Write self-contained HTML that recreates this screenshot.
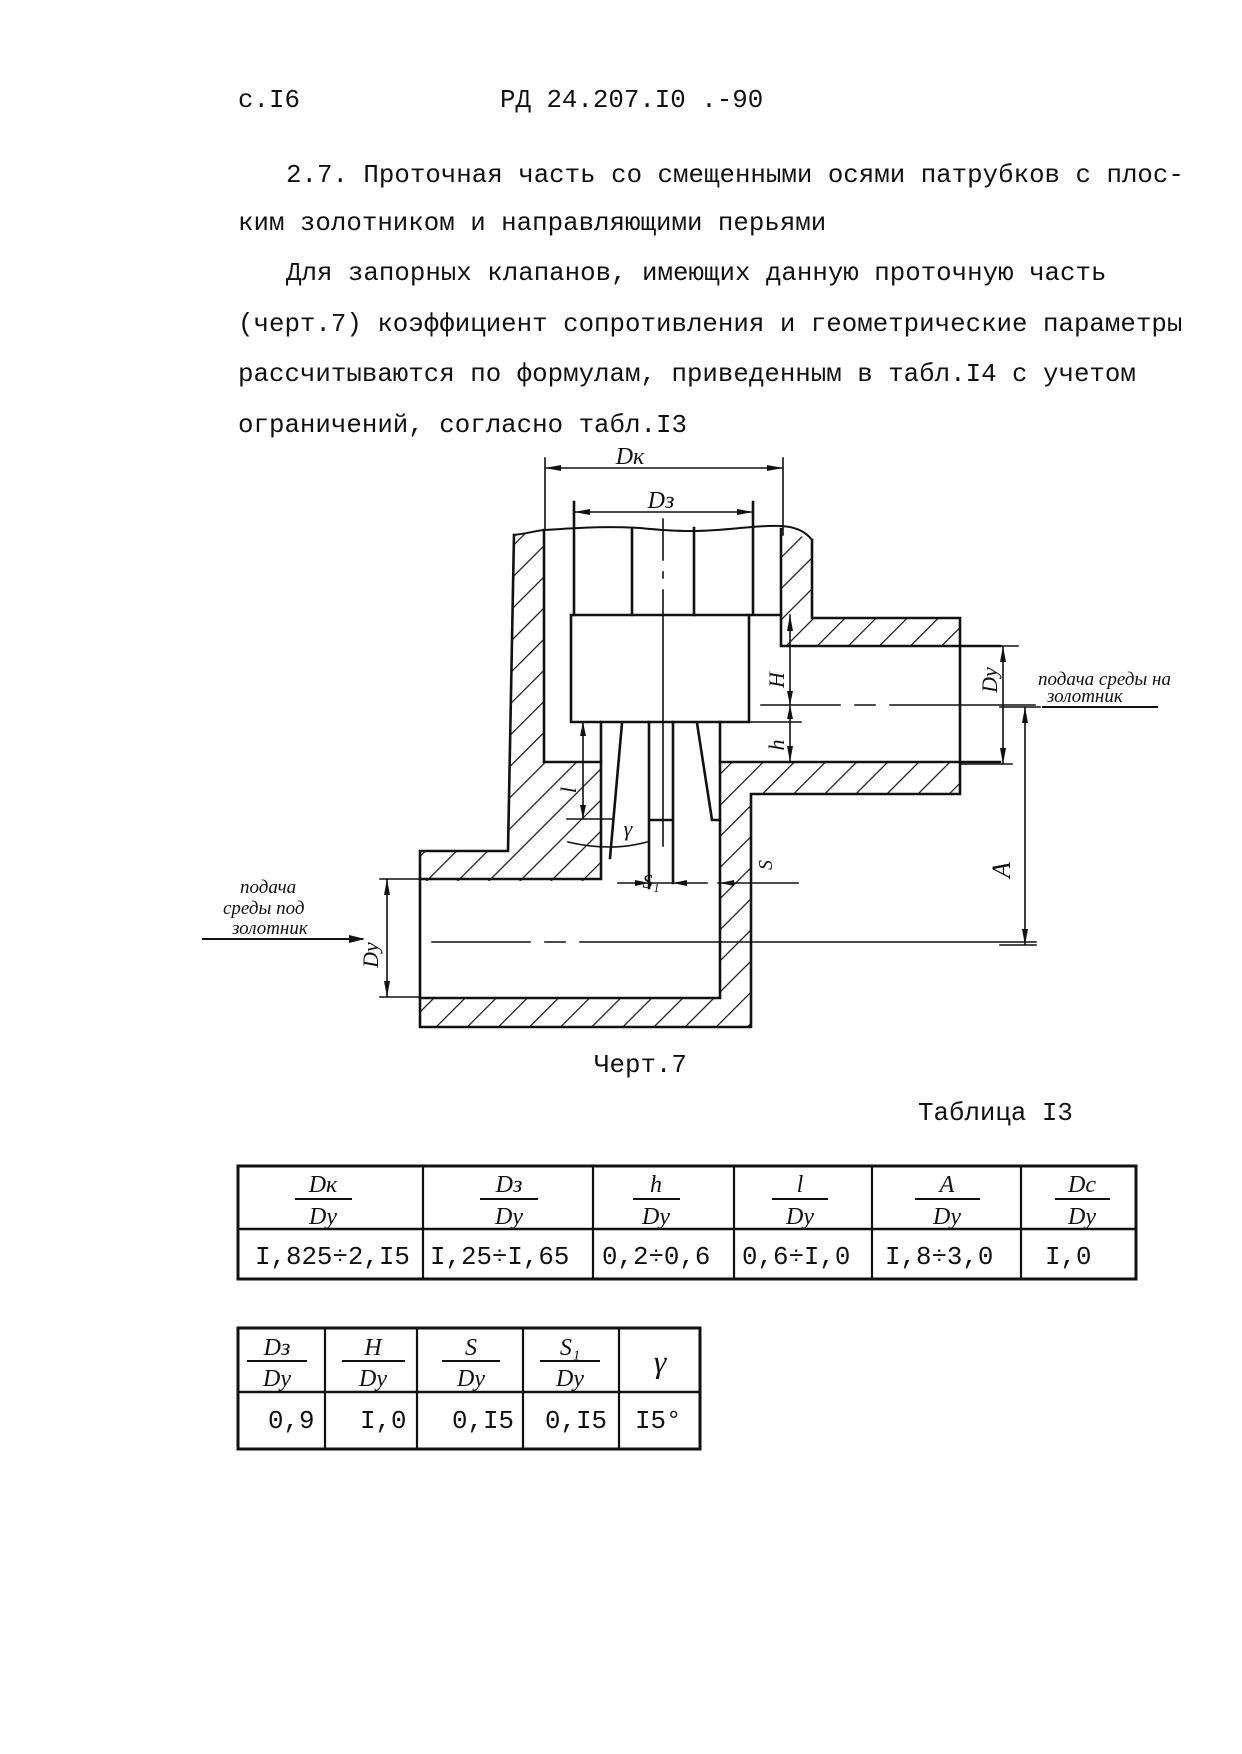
<!DOCTYPE html>
<html><head><meta charset="utf-8"><style>
html,body{margin:0;padding:0;background:#fff;}
body{width:1242px;height:1754px;position:relative;overflow:hidden;}
.t{position:absolute;font-family:"Liberation Mono","DejaVu Sans Mono",monospace;font-size:25.8px;color:#111;white-space:pre;line-height:1;}
</style></head><body>
<div class="t" style="left:238px;top:88px">с.I6</div>
<div class="t" style="left:500px;top:88px">РД 24.207.I0 .-90</div>
<div class="t" style="left:286px;top:163px">2.7. Проточная часть со смещенными осями патрубков с плос-</div>
<div class="t" style="left:238px;top:211px">ким золотником и направляющими перьями</div>
<div class="t" style="left:286px;top:261px">Для запорных клапанов, имеющих данную проточную часть</div>
<div class="t" style="left:238px;top:312px">(черт.7) коэффициент сопротивления и геометрические параметры</div>
<div class="t" style="left:238px;top:362px">рассчитываются по формулам, приведенным в табл.I4 с учетом</div>
<div class="t" style="left:238px;top:413px">ограничений, согласно табл.I3</div>
<div class="t" style="left:594px;top:1053px">Черт.7</div>
<div class="t" style="left:918px;top:1101px">Таблица I3</div>

<svg width="1242" height="1754" style="position:absolute;left:0;top:0" xmlns="http://www.w3.org/2000/svg">
<defs>
<pattern id="h" patternUnits="userSpaceOnUse" width="22" height="22" patternTransform="rotate(45)">
<line x1="0" y1="0" x2="0" y2="22" stroke="#111" stroke-width="2.4"/>
</pattern>
</defs>
<g fill="none" stroke="#111" stroke-width="2.6" stroke-linecap="square">
<!-- hatched walls -->
<path fill="url(#h)" fill-rule="evenodd" stroke="none" d="M514,535 L544,531 L781,529 L812,540 L812,618 L960,618 L960,794 L751,794 L751,1027 L420,1027 L420,851 L508,851 Z M544,531 L544,762 L601,762 L601,881 L420,881 L420,998 L720,998 L720,762 L960,762 L960,646 L781,646 L781,529 Z"/>
<!-- outer contour -->
<path d="M514,535 L508,851 L420,851 L420,1027 L751,1027 L751,794 L960,794 L960,618 L812,618 L812,540"/>
<path d="M514,535 C530,533 540,530 544,530 C580,528 600,526 640,528 C680,532 700,532 740,528 C780,524 800,524 812,540" stroke-width="2"/>
<!-- inner contour -->
<path d="M544,530 L544,762 L601,762"/>
<path d="M781,529 L781,646 L1000,646"/>
<path d="M720,762 L1000,762"/>
<path d="M420,879 L601,879 L601,722"/>
<path d="M420,998 L720,998 L720,722"/>
<!-- disc -->
<path d="M571,615 L749,615 L749,722 L571,722 Z"/>
<path d="M632,528 L632,615 M694,528 L694,615 M574,502 L574,615 M753,502 L753,615 M749,615 L781,615"/>
<!-- feathers -->
<path d="M622,723 L610,858 M697,723 L712,820 L720,820 M649,722 L649,888 M673,722 L673,883 M649,820 L673,820"/>
<!-- center lines -->
<path stroke-width="1.6" d="M663,519 L663,560 M663,572 L663,578 M663,590 L663,846"/>
<path stroke-width="1.6" d="M761,705 L840,705 M855,705 L875,705 M890,705 L1035,705"/>
<path stroke-width="1.6" d="M432,942 L530,942 M545,942 L565,942 M580,942 L1036,942"/>
<!-- Dk, Dz dimensions -->
<path stroke-width="1.6" d="M545,458 L545,530 M783,458 L783,535 M545,468 L783,468 M574,512 L753,512"/>
<path fill="#111" stroke="none" d="M545,468 l16,-3 l0,6 Z M783,468 l-16,-3 l0,6 Z M574,512 l16,-3 l0,6 Z M753,512 l-16,-3 l0,6 Z"/>
<!-- H, h -->
<path stroke-width="1.6" d="M790,615 L790,762 M749,722 L801,722"/>
<path fill="#111" stroke="none" d="M790,615 l-3,16 l6,0 Z M790,705 l-3,-14 l6,0 Z M790,705 l-3,14 l6,0 Z M790,762 l-3,-16 l6,0 Z"/>
<!-- l dimension -->
<path stroke-width="1.6" d="M583,722 L583,819 M567,819 L612,819"/>
<path fill="#111" stroke="none" d="M583,722 l-3,14 l6,0 Z M583,819 l-3,-14 l6,0 Z"/>
<!-- gamma arc -->
<path stroke-width="1.6" d="M568,842 Q610,852 647,842"/>
<!-- S1, S -->
<path stroke-width="1.6" d="M618,883 L707,883 M718,883 L798,883"/>
<path fill="#111" stroke="none" d="M649,883 l-14,-3 l0,6 Z M673,883 l14,-3 l0,6 Z M720,883 l14,-3 l0,6 Z"/>
<!-- right Dy, A -->
<path stroke-width="1.6" d="M960,646 L1018,646 M960,764 L1012,764 M1003,646 L1003,764 M1025,707 L1025,945 M1000,945 L1036,945 M1000,707 L1040,707"/>
<path fill="#111" stroke="none" d="M1003,646 l-3,16 l6,0 Z M1003,764 l-3,-16 l6,0 Z M1025,707 l-3,16 l6,0 Z M1025,945 l-3,-16 l6,0 Z"/>
<path stroke-width="2" d="M1043,707 L1157,707"/>
<!-- left Dy, arrow -->
<path stroke-width="1.6" d="M380,879 L420,879 M380,997 L420,997 M387,879 L387,997"/>
<path fill="#111" stroke="none" d="M387,879 l-3,16 l6,0 Z M387,997 l-3,-16 l6,0 Z"/>
<path stroke-width="2" d="M203,939 L362,939"/>
<path fill="#111" stroke="none" d="M365,939 l-16,-4 l0,8 Z"/>
</g>
<g font-family="Liberation Serif,serif" font-style="italic" fill="#111">
<text x="630" y="464" font-size="24" text-anchor="middle">Dк</text>
<text x="661" y="508" font-size="24" text-anchor="middle">Dз</text>
<text transform="translate(784,680) rotate(-90)" font-size="22" text-anchor="middle">H</text>
<text transform="translate(784,745) rotate(-90)" font-size="22" text-anchor="middle">h</text>
<text transform="translate(576,790) rotate(-90)" font-size="22" text-anchor="middle">l</text>
<text x="628" y="836" font-size="22" text-anchor="middle">γ</text>
<text x="651" y="888" font-size="20" text-anchor="middle">S₁</text>
<text transform="translate(772,865) rotate(-90)" font-size="20" text-anchor="middle">S</text>
<text transform="translate(997,680) rotate(-90)" font-size="22" text-anchor="middle">Dy</text>
<text transform="translate(1010,870) rotate(-90)" font-size="26" text-anchor="middle">A</text>
<text transform="translate(378,955) rotate(-90)" font-size="22" text-anchor="middle">Dy</text>
<text x="1038" y="685" font-size="19">подача среды на</text>
<text x="1047" y="702" font-size="19">золотник</text>
<text x="240" y="893" font-size="19">подача</text>
<text x="223" y="914" font-size="19">среды под</text>
<text x="232" y="934" font-size="19">золотник</text>
</g>
<!-- Table 1 -->
<g stroke="#111" fill="none">
<rect x="238" y="1166" width="898" height="113" stroke-width="3"/>
<line x1="238" y1="1229" x2="1136" y2="1229" stroke-width="2.5"/>
<path stroke-width="2.2" d="M423,1166 V1279 M593,1166 V1279 M734,1166 V1279 M872,1166 V1279 M1021,1166 V1279"/>
<path stroke-width="2" d="M295,1199 H352 M480,1199 H538 M633,1199 H680 M772,1199 H828 M915,1199 H980 M1055,1199 H1110"/>
<rect x="238" y="1328" width="462" height="121" stroke-width="3"/>
<line x1="238" y1="1392" x2="700" y2="1392" stroke-width="2.5"/>
<path stroke-width="2.2" d="M325,1328 V1449 M417,1328 V1449 M523,1328 V1449 M619,1328 V1449"/>
<path stroke-width="2" d="M247,1361 H307 M342,1361 H405 M442,1361 H500 M540,1361 H600"/>
</g>
<g font-family="Liberation Serif,serif" font-style="italic" fill="#111" font-size="24" text-anchor="middle">
<text x="323" y="1192">Dк</text><text x="323" y="1224">Dy</text>
<text x="509" y="1192">Dз</text><text x="509" y="1224">Dy</text>
<text x="656" y="1192">h</text><text x="656" y="1224">Dy</text>
<text x="800" y="1192">l</text><text x="800" y="1224">Dy</text>
<text x="947" y="1192">A</text><text x="947" y="1224">Dy</text>
<text x="1082" y="1192">Dc</text><text x="1082" y="1224">Dy</text>
<text x="277" y="1355">Dз</text><text x="277" y="1386">Dy</text>
<text x="373" y="1355">H</text><text x="373" y="1386">Dy</text>
<text x="471" y="1355">S</text><text x="471" y="1386">Dy</text>
<text x="570" y="1355">S₁</text><text x="570" y="1386">Dy</text>
<text x="660" y="1372" font-size="32">γ</text>
</g>
<g font-family="Liberation Mono,monospace" fill="#111" font-size="25.8">
<text x="255" y="1264">I,825÷2,I5</text>
<text x="430" y="1264">I,25÷I,65</text>
<text x="602" y="1264">0,2÷0,6</text>
<text x="742" y="1264">0,6÷I,0</text>
<text x="885" y="1264">I,8÷3,0</text>
<text x="1045" y="1264">I,0</text>
<text x="268" y="1428">0,9</text>
<text x="360" y="1428">I,0</text>
<text x="452" y="1428">0,I5</text>
<text x="545" y="1428">0,I5</text>
<text x="635" y="1428">I5°</text>
</g>
</svg>
</body></html>
